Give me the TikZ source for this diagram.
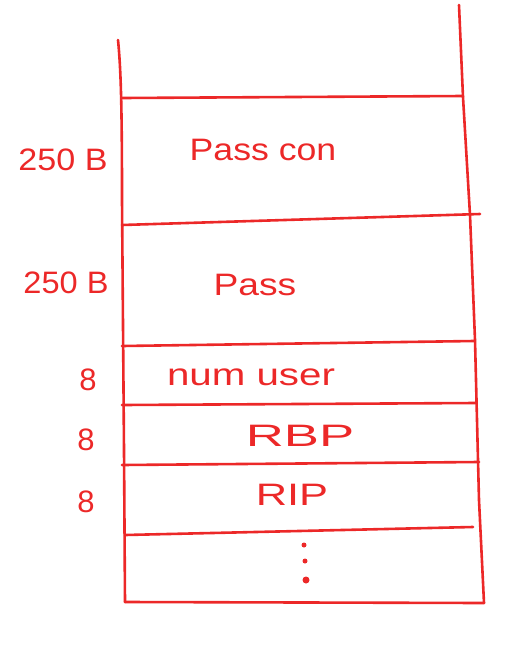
\documentclass[tikz,border=0pt]{standalone}
\usepackage{fontspec}
\setmainfont{Liberation Sans}
\definecolor{pen}{RGB}{236,40,40}
\begin{document}
\begin{tikzpicture}[x=1pt,y=-1pt,
  ink/.style={draw=pen,line width=2.6pt,line cap=round,line join=round},
  lbl/.style={text=pen,font=\fontsize{31}{33}\selectfont,inner sep=0pt},
  side/.style={text=pen,font=\fontsize{31}{33}\selectfont,inner sep=0pt}]
\useasboundingbox (0,0) rectangle (520,657);
% frame
\coordinate (lt) at (118,40);
\coordinate (lb) at (125,602);
\coordinate (rt) at (459,5);
\coordinate (rb) at (484,603);
\draw[ink] (lt) .. controls (121,70) and (122,110) .. (122,200) -- (124,450) -- (lb);
\draw[ink] (rt) -- (463,97) -- (470,215) -- (475,340) -- (479,500) -- (rb);
\draw[ink] (lb) -- (rb);
% rows
\draw[ink] (122,98) -- (463,96);
\draw[ink] (122,225) -- (480,214);
\draw[ink] (122,346) -- (474,341);
\draw[ink] (122,405) -- (476,403);
\draw[ink] (122,465) -- (479,462);
\draw[ink] (125,535) -- (473,527);
% contents
\node[lbl,xscale=1.15] (pc) at (263,150) {Pass con};
\node[lbl,xscale=1.2] (p) at (255,285) {Pass};
\node[lbl,xscale=1.3] (nu) at (251,377) {num user};
\node[lbl,xscale=1.7] (rbp) at (300,436) {RBP};
\node[lbl,xscale=1.4] (rip) at (292,495) {RIP};
\fill[pen] (304,545) circle (2.5);
\fill[pen] (305,561) circle (2.5);
\fill[pen] (306,580) circle (3.5);
% sizes
\node[side,xscale=1.1] (s1) at (63,160) {250 B};
\node[side,xscale=1.05] (s2) at (66,283) {250 B};
\node[side] (s3) at (88,380) {8};
\node[side] (s4) at (86,440) {8};
\node[side] (s5) at (86,502) {8};
\end{tikzpicture}
\end{document}
